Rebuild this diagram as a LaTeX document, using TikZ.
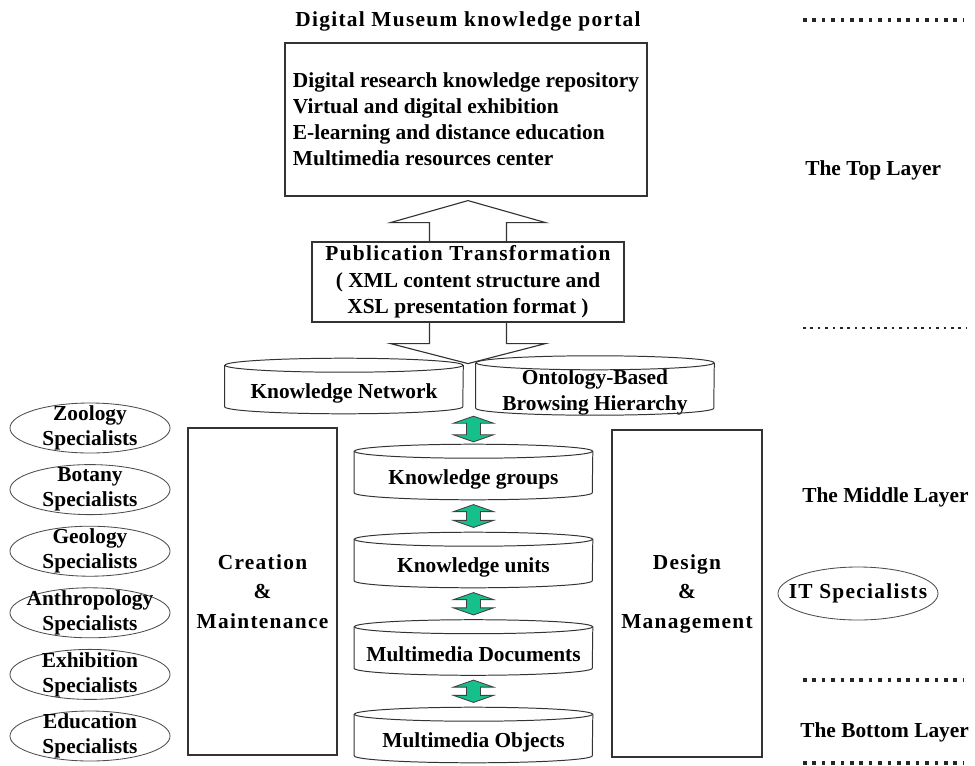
\documentclass[tikz,border=0pt]{standalone}
\usepackage{fontspec}
\setmainfont{Liberation Serif}
\newfontfamily\widefont[LetterSpace=6]{Liberation Serif}
\usetikzlibrary{shapes.geometric,calc}
\definecolor{linkgreen}{RGB}{22,192,138}

\tikzset{
  base/.style={font=\bfseries\fontsize{15.2}{18.5}\selectfont},
  wide/.style={font=\widefont\bfseries\fontsize{15.2}{21}\selectfont},
  box/.style={draw=black!80, line width=0.8pt, rectangle, inner sep=0pt},
  db/.style={base, minimum width=5.95cm, minimum height=1.025cm, inner sep=0pt, align=center},
  dbline/.style={draw=black!80, line width=0.7pt},
  spec/.style={draw=black!70, line width=0.6pt, ellipse, minimum width=4cm, minimum height=1.25cm,
    inner xsep=-0.4cm, inner ysep=-0.2cm, align=center, font=\bfseries\fontsize{15.2}{17.8}\selectfont},
  hollow/.style={draw=black!80, line width=0.8pt},
  link/.style={fill=linkgreen, draw=black!75, line width=0.6pt},
  dots/.style={draw=black!85, line width=0.09cm, dash pattern=on 0.09cm off 0.145cm},
  layer/.style={base, anchor=west, inner sep=0pt}
}

% green up-down arrow between two levels (x taken from #2)
\newcommand{\updown}[2]{%
  \filldraw[link] let \p1=(#1), \p2=(#2) in
    (\x2,\y1) -- ++(0.5cm,-0.175cm) -- ++(-0.325cm,0) -- (\x2+0.175cm,\y2+0.175cm)
    -- ++(0.325cm,0) -- (\x2,\y2) -- ++(-0.5cm,0.175cm) -- ++(0.325cm,0)
    -- (\x2-0.175cm,\y1-0.175cm) -- ++(-0.325cm,0) -- cycle;}

\begin{document}
\begin{tikzpicture}[x=0.025cm, y=-0.025cm]
  \useasboundingbox (0,0) rectangle (975,765);

  % top layer
  \node[wide] (title) at (468,21) {Digital Museum knowledge portal};
  \node[box, base, minimum width=9.05cm, minimum height=3.825cm, align=left] (portal) at (466,119.5)
    {Digital research knowledge repository\\Virtual and digital exhibition\\E-learning and distance education\\Multimedia resources center};
  \node[box, minimum width=7.8cm, minimum height=2cm, align=center,
    font=\bfseries\fontsize{15.2}{18.8}\selectfont] (pub) at (468,282)
    {{\widefont Publication Transformation}\\( XML content structure and\\XSL presentation format )};

  \coordinate (uptip) at ([yshift=-0.1cm]pub.north |- portal.south);
  \coordinate (dntip) at ([yshift=-1.025cm]pub.south);
  \draw[hollow] ([xshift=-0.9625cm]pub.north) -- ([xshift=-0.9625cm,yshift=-0.55cm]uptip)
    -- ([xshift=-1.9375cm,yshift=-0.55cm]uptip) -- (uptip)
    -- ([xshift=1.9375cm,yshift=-0.55cm]uptip) -- ([xshift=0.9625cm,yshift=-0.55cm]uptip)
    -- ([xshift=0.9625cm]pub.north);
  \draw[hollow] ([xshift=-0.9625cm]pub.south) -- ([xshift=-0.9625cm,yshift=0.5cm]dntip)
    -- ([xshift=-1.9375cm,yshift=0.5cm]dntip) -- (dntip)
    -- ([xshift=1.9375cm,yshift=0.5cm]dntip) -- ([xshift=0.9625cm,yshift=0.5cm]dntip)
    -- ([xshift=0.9625cm]pub.south);

  % middle and bottom layer
  \node[db] (kn) at (344,393) {Knowledge Network};
  \node[db, font=\bfseries\fontsize{15.2}{18}\selectfont] (ob) at (595,392.5) {Ontology-Based\\Browsing Hierarchy};
  \node[db] (kg) at (473.5,479) {Knowledge groups};
  \node[db] (ku) at (473.5,567) {Knowledge units};
  \node[db] (md) at (473.5,654.5) {Multimedia Documents};
  \node[db] (mo) at (473.5,742) {Multimedia Objects};

  \foreach \n in {kn,ob,kg,ku,md,mo}{
    \draw[dbline] ([yshift=0.175cm]\n.north) ellipse [x radius=2.975cm, y radius=0.175cm];
    \draw[dbline] ([yshift=0.175cm]\n.north west) -- ([yshift=0.175cm]\n.south west)
      arc [start angle=180, end angle=360, x radius=2.975cm, y radius=0.175cm]
      -- ([yshift=0.175cm]\n.north east);
  }

  \updown{[yshift=-0.06cm]kn.south east}{[yshift=0.41cm]kg.north}
  \updown{[yshift=-0.12cm]kg.south}{[yshift=0.47cm]ku.north}
  \updown{[yshift=-0.12cm]ku.south}{[yshift=0.47cm]md.north}
  \updown{[yshift=-0.12cm]md.south}{[yshift=0.47cm]mo.north}

  \node[box, wide, minimum width=3.725cm, minimum height=8.175cm, align=center] (create) at (262.5,591.5)
    {Creation\\\&\\Maintenance};
  \node[box, wide, minimum width=3.75cm, minimum height=8.175cm, align=center] (design) at (687,593.5)
    {Design\\\&\\Management};

  \foreach \f [count=\i from 0] in {Zoology,Botany,Geology,Anthropology,Exhibition,Education}
    \node[spec] (sp\i) at (90,{428+61.6*\i}) {\f\\Specialists};
  \node[spec, minimum height=1.325cm, font=\widefont\bfseries\fontsize{15.2}{18}\selectfont] (it) at (858,593.5) {IT Specialists};

  % layer marks
  \draw[dots] (803,20) -- (963,20);
  \node[layer] (toplay) at (805,170) {The Top Layer};
  \draw[dots, line width=0.065cm, dash pattern=on 0.065cm off 0.12cm] (803,328) -- (967,328);
  \node[layer] (midlay) at (802,497) {The Middle Layer};
  \draw[dots] (803,680) -- (963,680);
  \node[layer] (botlay) at (800,732) {The Bottom Layer};
  \draw[dots] (803,763) -- (963,763);
\end{tikzpicture}
\end{document}
